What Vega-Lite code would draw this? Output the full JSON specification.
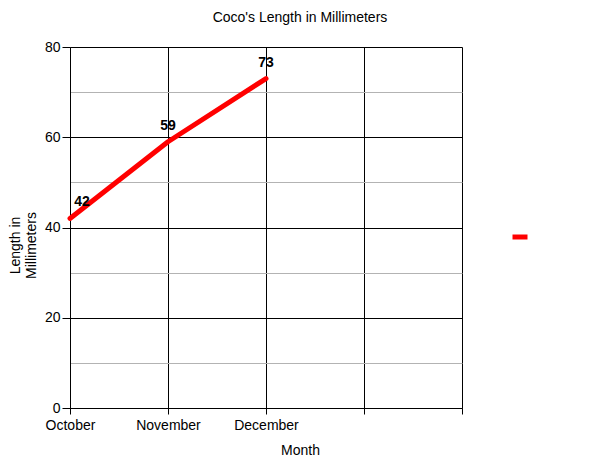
{
  "$schema": "https://vega.github.io/schema/vega-lite/v6.json",
  "autosize": {"type": "none"},
  "padding": {"left": 70, "top": 47, "right": 138, "bottom": 55},
  "width": 392,
  "height": 361,
  "title": {
    "text": "Coco's Length in Millimeters",
    "fontSize": 14,
    "fontWeight": "normal",
    "font": "Liberation Sans",
    "color": "#000000",
    "frame": "group",
    "baseline": "bottom",
    "offset": 21,
    "dx": 34,
    "dy": 20
  },
  "view": {"stroke": null},
  "data": {
    "values": [
      {"month": "October", "length": 42, "series": "Length"},
      {"month": "November", "length": 59, "series": "Length"},
      {"month": "December", "length": 73, "series": "Length"}
    ]
  },
  "encoding": {
    "x": {
      "field": "month",
      "type": "ordinal",
      "scale": {"type": "point", "domain": ["October", "November", "December", " ", "  "], "padding": 0},
      "title": "Month",
      "axis": {
        "labelAngle": 0,
        "grid": true,
        "gridColor": "#000000",
        "gridOpacity": 1,
        "domainColor": "#000000",
        "tickColor": "#000000",
        "tickSize": 6,
        "labelPadding": 4,
        "labelFontSize": 14,
        "labelColor": "#000000",
        "titleFontSize": 14,
        "titleFontWeight": "normal",
        "titleColor": "#000000",
        "titleX": 230,
        "titleY": 42,
        "titleBaseline": "middle"
      }
    },
    "y": {
      "field": "length",
      "type": "quantitative",
      "scale": {"domain": [0, 80], "nice": false},
      "title": ["Length in", "Millimeters"],
      "axis": {
        "values": [0, 10, 20, 30, 40, 50, 60, 70, 80],
        "labelExpr": "datum.value % 20 === 0 ? datum.label : ''",
        "grid": true,
        "gridColor": {"condition": {"test": "datum.value % 20 === 0", "value": "#000000"}, "value": "#b3b3b3"},
        "gridOpacity": 1,
        "tickOpacity": {"condition": {"test": "datum.value % 20 === 0", "value": 1}, "value": 0},
        "domainColor": "#000000",
        "tickColor": "#000000",
        "tickSize": 8,
        "labelPadding": 2,
        "labelFontSize": 14,
        "labelColor": "#000000",
        "titleFontSize": 14,
        "titleFontWeight": "normal",
        "titleColor": "#000000",
        "titleX": -48,
        "titleY": 198,
        "titleAlign": "center"
      }
    }
  },
  "layer": [
    {
      "mark": {"type": "line", "strokeWidth": 5, "strokeCap": "round", "strokeJoin": "round"},
      "encoding": {
        "color": {
          "field": "series",
          "type": "nominal",
          "scale": {"range": ["#ff0000"]},
          "legend": {
            "orient": "none",
            "legendX": 440,
            "legendY": 180,
            "title": null,
            "symbolType": "stroke",
            "symbolSize": 225,
            "symbolStrokeWidth": 5,
            "labelExpr": "''"
          }
        }
      }
    },
    {
      "transform": [{"filter": "datum.month !== 'October'"}],
      "mark": {"type": "text", "dy": -16, "fontWeight": "bold", "fontSize": 14, "baseline": "middle", "color": "#000000"},
      "encoding": {"text": {"field": "length", "type": "quantitative"}}
    },
    {
      "transform": [{"filter": "datum.month === 'October'"}],
      "mark": {"type": "text", "dy": -16, "dx": 12, "fontWeight": "bold", "fontSize": 14, "baseline": "middle", "color": "#000000"},
      "encoding": {"text": {"field": "length", "type": "quantitative"}}
    }
  ],
  "config": {
    "font": "Liberation Sans"
  }
}
